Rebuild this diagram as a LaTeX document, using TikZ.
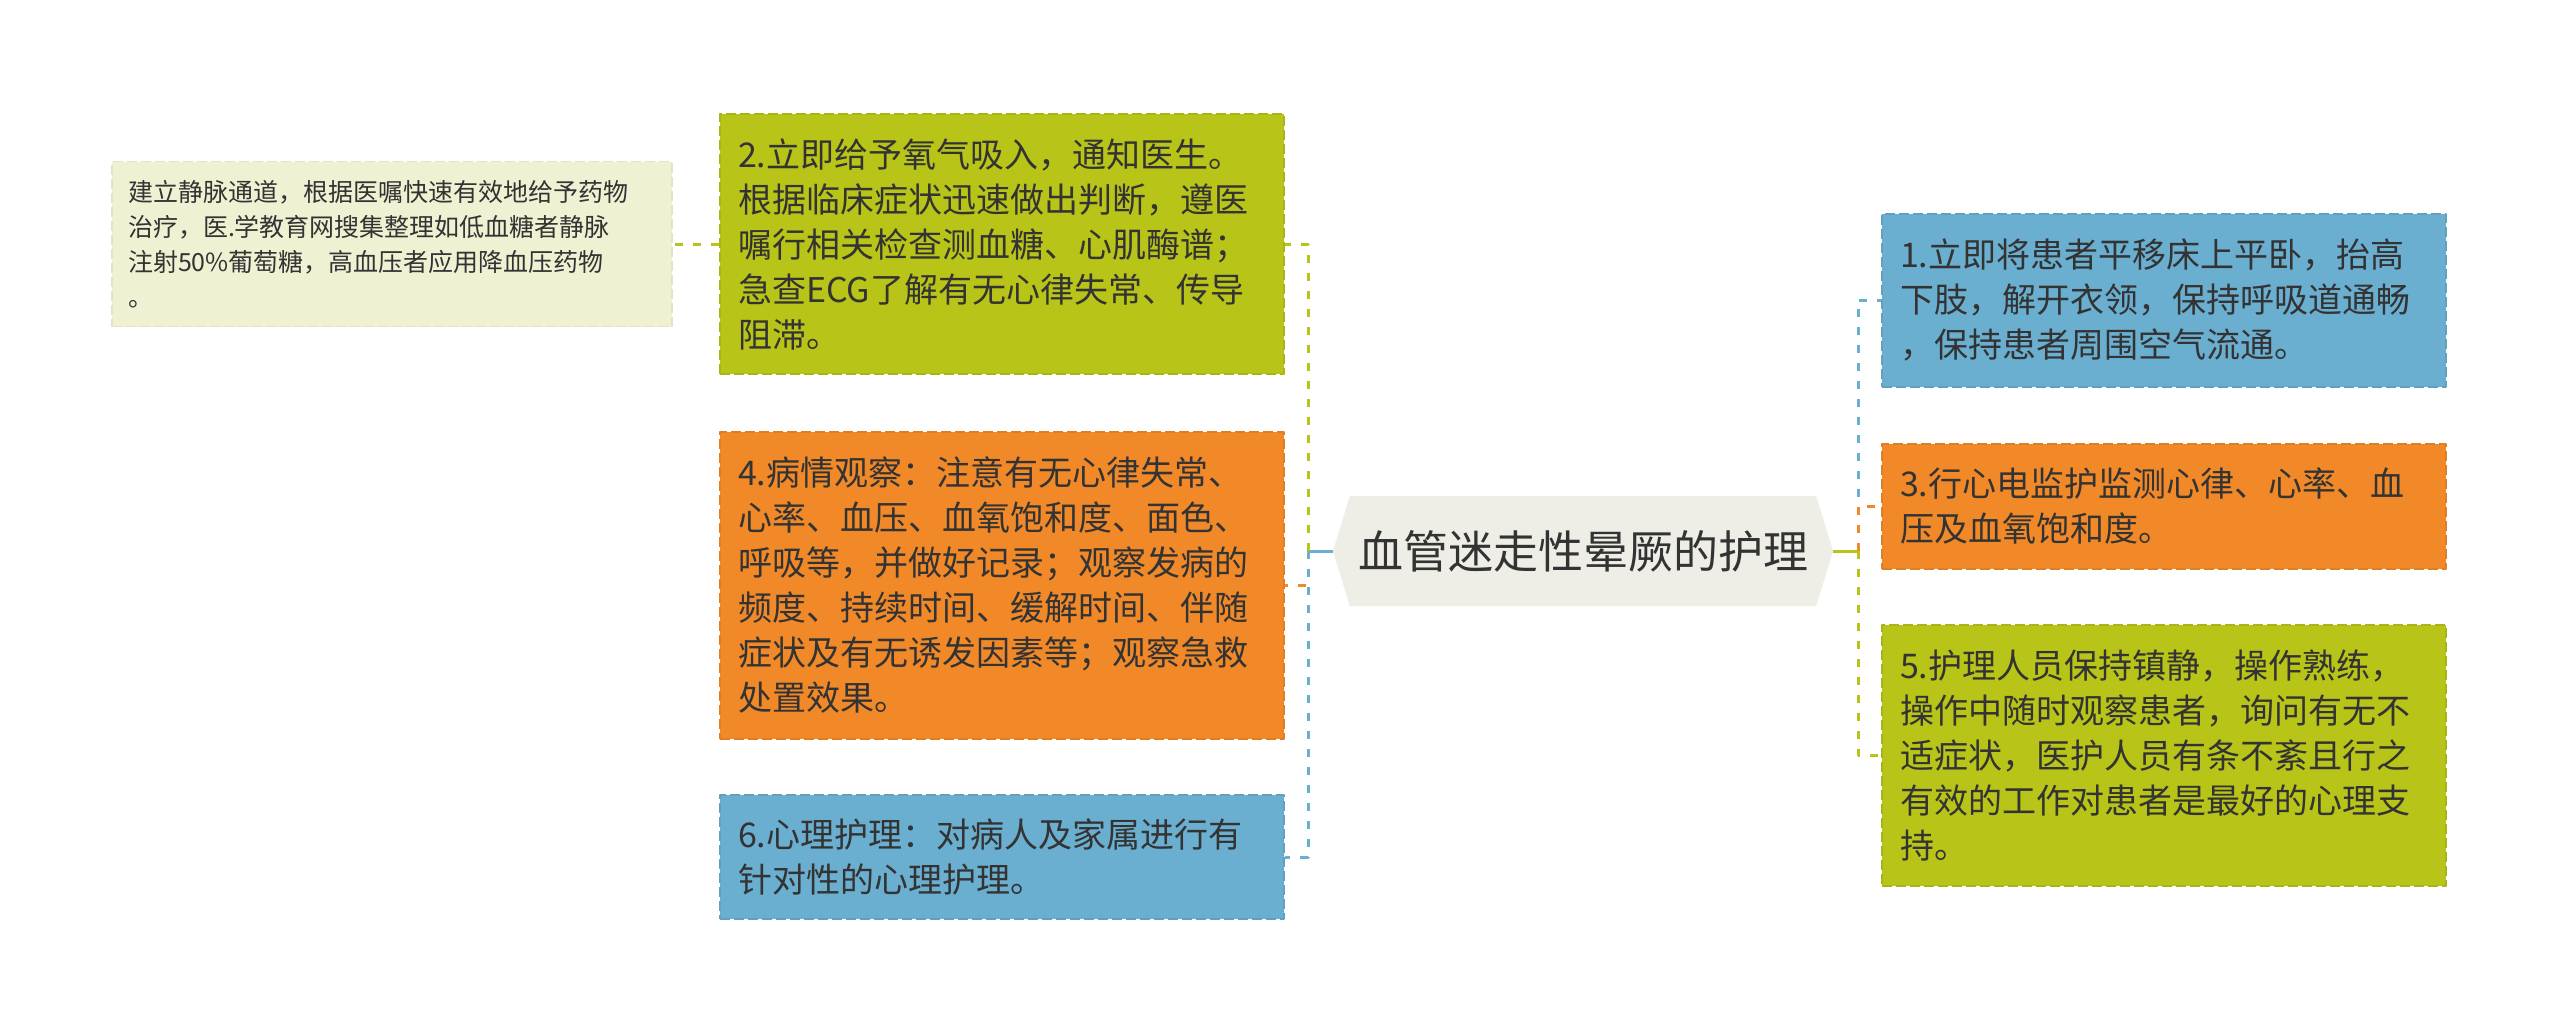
\documentclass[tikz,border=0pt]{standalone}
\usepackage{fontspec}
\setmainfont{Noto Sans CJK SC}
\usetikzlibrary{shapes.symbols}
\definecolor{leafgreen}{RGB}{184,196,24}
\definecolor{leaforange}{RGB}{241,137,41}
\definecolor{leafblue}{RGB}{106,174,208}
\definecolor{leafpale}{RGB}{240,241,210}
\definecolor{rootgrey}{RGB}{238,238,230}
\definecolor{inkgrey}{RGB}{51,51,51}
\tikzset{
  leaf/.style={rectangle, draw=#1!92!black, fill=#1, line width=1pt, dash pattern=on 5pt off 2pt,
    text width=264pt, inner xsep=9pt, inner ysep=0pt, align=left, text=inkgrey,
    font=\fontsize{17}{22.5}\selectfont},
  note/.style={rectangle, draw=leafpale!94!black, fill=leafpale, line width=0.8pt, dash pattern=on 5pt off 2pt,
    text width=264pt, inner xsep=8pt, inner ysep=0pt, align=left, text=inkgrey,
    font=\fontsize{12.5}{17.5}\selectfont},
  root/.style={signal, signal to=west and east, signal pointer angle=146, fill=rootgrey,
    minimum width=250pt, minimum height=55pt, inner sep=0pt, text=inkgrey,
    font=\fontsize{22.5}{27}\selectfont},
  branch/.style={draw=#1, line width=1.5pt, line cap=butt, dash pattern=on 4pt off 5pt},
  stem/.style={draw=#1, line width=1.5pt, line cap=butt}
}
\begin{document}
\begin{tikzpicture}[line join=round, x=0.5pt, y=-0.5pt]
\fill[white] (0,0) rectangle (2560,1034);
\useasboundingbox (0,0) rectangle (2560,1034);
\node[root] (root) at (1583,551) {血管迷走性晕厥的护理};
\node[leaf=leafgreen, minimum height=130pt] (care2) at (1002,244)
  {2.立即给予氧气吸入，通知医生。\\根据临床症状迅速做出判断，遵医\\嘱行相关检查测血糖、心肌酶谱；\\急查ECG了解有无心律失常、传导\\阻滞。};
\node[leaf=leaforange, minimum height=153.5pt] (care4) at (1002,585)
  {4.病情观察：注意有无心律失常、\\心率、血压、血氧饱和度、面色、\\呼吸等，并做好记录；观察发病的\\频度、持续时间、缓解时间、伴随\\症状及有无诱发因素等；观察急救\\处置效果。};
\node[leaf=leafblue, minimum height=62pt] (care6) at (1002,857)
  {6.心理护理：对病人及家属进行有\\针对性的心理护理。};
\node[note, minimum height=82.5pt] (drug) at (392,244)
  {建立静脉通道，根据医嘱快速有效地给予药物\\治疗，医.学教育网搜集整理如低血糖者静脉\\注射50\%葡萄糖，高血压者应用降血压药物\\。};
\node[leaf=leafblue, minimum height=86.5pt] (care1) at (2164,300)
  {1.立即将患者平移床上平卧，抬高\\下肢，解开衣领，保持呼吸道通畅\\，保持患者周围空气流通。};
\node[leaf=leaforange, minimum height=62.5pt] (care3) at (2164,506)
  {3.行心电监护监测心律、心率、血\\压及血氧饱和度。};
\node[leaf=leafgreen, minimum height=130.5pt] (care5) at (2164,755)
  {5.护理人员保持镇静，操作熟练，\\操作中随时观察患者，询问有无不\\适症状，医护人员有条不紊且行之\\有效的工作对患者是最好的心理支\\持。};
\coordinate (lhub) at (1308,551);
\coordinate (rhub) at (1858,551);
\draw[stem=leafblue] (root.west) -- (lhub);
\draw[stem=leafgreen] (root.east) -- (rhub);
\draw[branch=leaforange] (lhub) |- (care4.east);
\draw[branch=leafgreen] (lhub) |- (care2.east);
\draw[branch=leafblue] (lhub) |- (care6.east);
\draw[branch=leafblue] (rhub) |- (care1.west);
\draw[branch=leaforange] (rhub) |- (care3.west);
\draw[branch=leafgreen] (rhub) |- (care5.west);
\draw[branch=leafgreen] (care2.west) -- (drug.east);
\end{tikzpicture}
\end{document}
